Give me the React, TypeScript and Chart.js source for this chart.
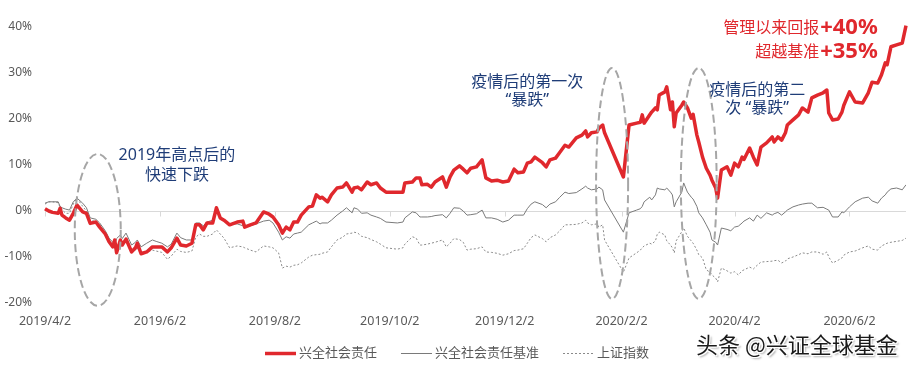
import React, { useEffect, useRef } from "react";
import { Chart, registerables } from "chart.js";

Chart.register(...registerables);

const FONT = "'Noto Sans', 'Noto Sans CJK SC', sans-serif";

// Trading dates (sampled) and cumulative returns in %
const dates = [
  "2019-04-02","2019-04-04","2019-04-06","2019-04-09","2019-04-10","2019-04-11","2019-04-13","2019-04-15","2019-04-17","2019-04-19",
  "2019-04-22","2019-04-24","2019-04-26","2019-04-29","2019-05-01","2019-05-04","2019-05-06","2019-05-08","2019-05-09","2019-05-10",
  "2019-05-12","2019-05-13","2019-05-15","2019-05-18","2019-05-20","2019-05-21","2019-05-23","2019-05-26","2019-05-29","2019-05-31",
  "2019-06-03","2019-06-06","2019-06-08","2019-06-11","2019-06-13","2019-06-16","2019-06-19","2019-06-21","2019-06-23","2019-06-25",
  "2019-06-27","2019-06-30","2019-07-02","2019-07-04","2019-07-06","2019-07-09","2019-07-13","2019-07-16","2019-07-17","2019-07-20",
  "2019-07-23","2019-07-27","2019-07-30","2019-08-01","2019-08-04","2019-08-06","2019-08-08","2019-08-10","2019-08-12","2019-08-14",
  "2019-08-16","2019-08-20","2019-08-22","2019-08-24","2019-08-26","2019-08-27","2019-08-30","2019-09-01","2019-09-04","2019-09-07",
  "2019-09-09","2019-09-12","2019-09-13","2019-09-15","2019-09-17","2019-09-20","2019-09-22","2019-09-25","2019-09-27","2019-09-30",
  "2019-10-06","2019-10-09","2019-10-10","2019-10-14","2019-10-16","2019-10-18","2019-10-19","2019-10-22","2019-10-24","2019-10-26",
  "2019-10-30","2019-11-01","2019-11-03","2019-11-05","2019-11-08","2019-11-10","2019-11-12","2019-11-14","2019-11-17","2019-11-20",
  "2019-11-22","2019-11-25","2019-11-28","2019-12-01","2019-12-04","2019-12-07","2019-12-09","2019-12-12","2019-12-14","2019-12-16",
  "2019-12-18","2019-12-22","2019-12-24","2019-12-26","2019-12-29","2019-12-31","2020-01-03","2020-01-05","2020-01-09","2020-01-12",
  "2020-01-14","2020-01-15","2020-01-17","2020-01-20","2020-01-21","2020-01-23","2020-01-24","2020-02-03","2020-02-06","2020-02-10",
  "2020-02-12","2020-02-13","2020-02-14","2020-02-17","2020-02-18","2020-02-20","2020-02-21","2020-02-22","2020-02-25","2020-02-26",
  "2020-02-28","2020-02-29","2020-03-01","2020-03-02","2020-03-05","2020-03-06","2020-03-08","2020-03-10","2020-03-11","2020-03-13",
  "2020-03-14","2020-03-16","2020-03-18","2020-03-20","2020-03-21","2020-03-23","2020-03-24","2020-03-26","2020-03-29","2020-03-31",
  "2020-04-02","2020-04-04","2020-04-06","2020-04-07","2020-04-10","2020-04-12","2020-04-14","2020-04-16","2020-04-19","2020-04-22",
  "2020-04-23","2020-04-25","2020-04-27","2020-04-29","2020-04-30","2020-05-03","2020-05-06","2020-05-08","2020-05-11","2020-05-13",
  "2020-05-16","2020-05-19","2020-05-21","2020-05-22","2020-05-24","2020-05-27","2020-05-29","2020-05-30","2020-06-02","2020-06-05",
  "2020-06-09","2020-06-12","2020-06-14","2020-06-17","2020-06-19","2020-06-21","2020-06-22","2020-06-24","2020-06-27","2020-06-30",
  "2020-07-02",
];

const fundReturn = [
  0.5, 0.0, -0.3, -0.5, 0.6, -0.9, -1.5, -2.0, -0.5, 1.3,
  -0.2, -0.5, -2.7, -2.4, -3.5, -5.0, -6.7, -7.8, -6.3, -9.1,
  -6.3, -7.4, -6.1, -8.9, -8.0, -7.0, -9.3, -8.9, -7.8, -7.8,
  -7.8, -8.9, -8.0, -5.9, -7.4, -7.6, -7.0, -3.0, -3.0, -4.1,
  -2.6, -2.6, 0.7, -1.5, -2.0, -3.0, -2.4, -2.2, -3.5, -3.0,
  -2.6, -0.2, -0.7, -1.3, -3.0, -4.8, -3.5, -4.1, -2.4, -2.4,
  -0.9, 0.9, 1.1, 3.5, 2.8, 3.0, 2.0, 3.5, 5.0, 5.2,
  6.1, 4.1, 5.0, 5.2, 4.6, 6.3, 5.7, 6.1, 5.0, 4.1,
  4.1, 4.1, 6.1, 6.3, 7.2, 7.2, 5.7, 5.8, 5.2, 6.3,
  7.4, 5.2, 7.4, 8.9, 9.8, 9.1, 8.3, 9.3, 9.6, 11.1,
  7.2, 6.5, 6.7, 6.3, 6.5, 9.1, 8.3, 8.5, 10.4, 10.7,
  11.7, 10.5, 9.6, 11.1, 11.5, 12.6, 14.3, 13.9, 15.9, 16.5,
  17.4, 16.1, 17.0, 17.2, 18.0, 18.7, 17.0, 7.4, 18.7, 19.1,
  19.3, 20.9, 19.1, 20.9, 21.5, 22.4, 22.0, 25.2, 25.9, 27.0,
  22.0, 23.7, 18.3, 21.3, 23.0, 23.7, 22.4, 20.2, 21.0, 16.5,
  15.0, 11.7, 9.3, 7.8, 6.7, 5.0, 2.8, 8.9, 9.6, 7.8,
  10.4, 9.6, 11.7, 11.2, 13.7, 11.7, 10.0, 13.9, 14.8, 16.1,
  15.0, 16.1, 15.4, 17.0, 18.7, 19.8, 20.9, 22.4, 21.5, 24.6,
  25.2, 25.7, 26.3, 21.3, 19.8, 20.0, 21.5, 23.0, 25.9, 23.7,
  23.5, 25.7, 28.0, 27.8, 29.6, 32.2, 31.8, 35.7, 36.1, 36.5,
  40.3,
];

const benchmarkReturn = [
  1.7, 2.0, 2.0, 2.0, 1.0, 0.7, 0.4, 0.2, 2.0, 2.8,
  1.7, 0.7, -1.5, -1.8, -2.6, -4.3, -5.9, -6.8, -7.4, -6.0,
  -5.2, -6.0, -4.8, -7.4, -6.8, -6.3, -7.8, -7.0, -6.3, -6.6,
  -7.0, -7.8, -7.2, -4.8, -5.8, -6.3, -6.3, -2.6, -2.6, -3.2,
  -2.4, -2.0, 0.7, -1.3, -2.0, -2.8, -2.8, -3.2, -3.3, -3.2,
  -2.8, -2.2, -2.0, -2.6, -4.6, -6.3, -5.6, -5.9, -5.0, -4.8,
  -4.6, -3.0, -2.6, -2.2, -2.8, -2.6, -2.6, -2.0, -0.9, 0.0,
  0.7, -0.4, 0.7, 0.4, -0.5, -0.4, -0.9, -1.3, -1.6, -2.4,
  -2.6, -2.4, -1.5, -0.2, -0.4, -1.3, -1.3, -1.3, -1.2, -1.0,
  -0.8, -1.5, -0.5, 0.7, 0.6, 0.0, -0.9, -0.8, -0.6, 0.2,
  -1.5, -1.5, -1.8, -2.4, -2.0, -0.9, -0.9, -0.9, 0.5, 1.5,
  2.0, 1.4, 0.7, 1.5, 2.0, 2.9, 4.1, 3.8, 4.0, 4.8,
  5.4, 5.0, 4.6, 4.8, 5.2, 4.6, 2.4, -4.6, -0.4, 0.2,
  0.5, 1.0, 2.0, 3.0, 2.4, 3.5, 5.0, 4.8, 4.6, 5.0,
  4.1, 3.5, 0.9, 2.0, 4.1, 6.1, 4.1, 3.0, 2.6, 1.0,
  -0.4, -1.5, -3.0, -4.6, -6.3, -6.8, -7.4, -3.7, -4.0, -4.3,
  -3.5, -3.3, -2.6, -2.2, -1.5, -2.2, -0.9, -1.6, -0.4, -0.9,
  -0.6, -0.3, -0.9, -0.2, 0.2, 0.9, 1.3, 1.5, 1.7, 1.7,
  0.7, 0.8, 0.4, 0.2, -1.3, -1.3, -0.2, -0.4, 0.9, 2.0,
  2.8, 3.0, 2.2, 1.7, 2.8, 3.5, 4.1, 4.8, 5.0, 4.6,
  5.7,
];

const indexReturn = [
  1.5, 2.0, 2.0, 1.8, 0.8, 0.3, -0.5, -0.5, 1.5, 2.8,
  1.0, 0.0, -2.0, -2.3, -3.0, -5.0, -7.0, -7.8, -8.0, -8.9,
  -7.0, -7.5, -6.5, -9.0, -8.5, -8.0, -9.5, -9.0, -8.5, -8.7,
  -9.0, -10.5, -9.8, -8.3, -8.8, -9.0, -8.7, -5.7, -5.0, -5.5,
  -5.5, -5.0, -4.1, -5.0, -5.9, -8.0, -7.6, -7.8, -8.0, -8.5,
  -8.9, -7.6, -7.8, -8.0, -9.1, -12.4, -12.0, -12.2, -11.8, -11.7,
  -11.3, -10.0, -9.6, -9.5, -9.4, -9.2, -8.9, -7.8, -6.3, -5.7,
  -5.0, -4.8, -4.6, -4.8, -5.5, -5.8, -6.2, -6.7, -7.2, -8.0,
  -8.3, -8.0, -7.2, -5.6, -5.9, -7.4, -7.4, -7.2, -7.0, -6.8,
  -6.3, -7.8, -7.0, -6.0, -6.2, -6.8, -8.5, -8.3, -8.2, -7.8,
  -8.9, -9.0, -9.2, -9.6, -9.3, -8.6, -8.5, -8.2, -7.0, -5.8,
  -5.2, -6.0, -6.7, -5.8, -5.2, -4.4, -3.0, -3.0, -2.9, -2.6,
  -2.0, -2.6, -3.0, -2.8, -3.5, -3.0, -6.3, -13.3, -10.2, -9.1,
  -8.5, -8.0, -7.6, -7.0, -7.2, -6.5, -5.0, -4.6, -5.2, -6.5,
  -7.4, -8.0, -9.1, -6.5, -4.5, -3.7, -5.5, -6.5, -7.0, -8.5,
  -9.5, -10.2, -12.8, -13.3, -13.9, -14.6, -15.4, -12.4, -13.0, -13.5,
  -13.2, -13.9, -13.0, -12.8, -12.2, -12.6, -11.8, -11.1, -11.0, -10.9,
  -10.8, -10.7, -11.3, -10.9, -10.4, -10.0, -9.5, -9.1, -9.3, -8.9,
  -8.9, -9.4, -8.9, -10.0, -11.3, -10.7, -10.2, -9.6, -8.9, -8.7,
  -8.0, -7.6, -8.3, -8.5, -7.6, -7.2, -7.0, -6.8, -6.6, -6.4,
  -5.9,
];

const seriesNames = ["兴全社会责任", "兴全社会责任基准", "上证指数"];

const startDate = "2019-04-02";
const endDate = "2020-07-02";
const tickDates = ["2019-04-02", "2019-06-02", "2019-08-02", "2019-10-02", "2019-12-02", "2020-02-02", "2020-04-02", "2020-06-02"];
const tickLabels = ["2019/4/2", "2019/6/2", "2019/8/2", "2019/10/2", "2019/12/2", "2020/2/2", "2020/4/2", "2020/6/2"];
const yTicks = [-20, -10, 0, 10, 20, 30, 40];

// Annotations anchored in data coordinates
const ellipseDates = ["2019-04-30", "2020-01-28", "2020-03-14"];
const ellipseValues = [-4.1, 6.0, 6.0];
const ellipseHalfDays = [12.2, 8.5, 9.5];
const ellipseHalfPct = [16.5, 25.1, 25.1];

const noteLines = [
  ["2019年高点后的", "快速下跌"],
  ["疫情后的第一次", "“暴跌”"],
  ["疫情后的第二", "次 “暴跌”"],
];
const noteDates = ["2019-06-11", "2019-12-14", "2020-04-14"];
const noteValues = [
  [12.0, 7.8],
  [28.0, 24.1],
  [26.3, 22.4],
];

const resultLabels = ["管理以来回报", "超越基准"];
const resultNumbers = ["+40%", "+35%"];
const resultDate = "2020-06-17";
const resultValues = [39.8, 34.6];

function dayOf(s: string): number {
  const [y, m, d] = s.split("-").map(Number);
  const [y0, m0, d0] = startDate.split("-").map(Number);
  return Math.round((Date.UTC(y, m - 1, d) - Date.UTC(y0, m0 - 1, d0)) / 86400000);
}

const RED = "#e0282d";
const BLUE = "#1f3d78";
const AXIS_TEXT = "#595959";

const overlayPlugin = {
  id: "overlay",
  beforeDatasetsDraw(chart: any) {
    const { ctx } = chart;
    const x = chart.scales.x;
    const y = chart.scales.y;
    const y0 = Math.round(y.getPixelForValue(0)) + 0.5;
    ctx.save();
    ctx.strokeStyle = "#d9d9d9";
    ctx.lineWidth = 1;
    for (const d of tickDates) {
      const px = Math.round(x.getPixelForValue(dayOf(d))) + 0.5;
      ctx.beginPath();
      ctx.moveTo(px, y0);
      ctx.lineTo(px, y0 + 5);
      ctx.stroke();
    }
    ctx.restore();
  },
  afterDatasetsDraw(chart: any) {
    const { ctx } = chart;
    const x = chart.scales.x;
    const y = chart.scales.y;
    ctx.save();
    // dashed ellipses
    ctx.strokeStyle = "#a6a6a6";
    ctx.lineWidth = 2;
    ctx.setLineDash([8, 4]);
    ellipseDates.forEach((d, i) => {
      const cx = x.getPixelForValue(dayOf(d));
      const cy = y.getPixelForValue(ellipseValues[i]);
      const rx = Math.abs(x.getPixelForValue(dayOf(d) + ellipseHalfDays[i]) - cx);
      const ry = Math.abs(y.getPixelForValue(ellipseValues[i] + ellipseHalfPct[i]) - cy);
      ctx.beginPath();
      ctx.ellipse(cx, cy, rx, ry, 0, 0, Math.PI * 2);
      ctx.stroke();
    });
    ctx.setLineDash([]);
    // blue notes
    ctx.fillStyle = BLUE;
    ctx.font = `16px ${FONT}`;
    ctx.textAlign = "center";
    ctx.textBaseline = "middle";
    noteLines.forEach((lines, i) => {
      const cx = x.getPixelForValue(dayOf(noteDates[i]));
      lines.forEach((t, j) => {
        ctx.fillText(t, cx, y.getPixelForValue(noteValues[i][j]));
      });
    });
    // red result text, right aligned
    const xr = x.getPixelForValue(dayOf(resultDate));
    ctx.fillStyle = RED;
    ctx.textAlign = "right";
    resultLabels.forEach((label, i) => {
      const py = y.getPixelForValue(resultValues[i]);
      ctx.font = `bold 22px ${FONT}`;
      const w = ctx.measureText(resultNumbers[i]).width;
      ctx.fillText(resultNumbers[i], xr, py);
      ctx.font = `16px ${FONT}`;
      ctx.fillText(label, xr - w - 1, py + 1);
    });
    ctx.restore();
  },
  afterDraw(chart: any) {
    // legend below the axis labels
    const { ctx } = chart;
    const items = chart.data.datasets.map((ds: any) => ({
      text: ds.label as string,
      color: ds.borderColor as string,
      width: Math.min(ds.borderWidth as number, 4),
      dash: (ds.borderDash as number[]) || [],
    }));
    const lineLen = 31;
    const textGap = 3;
    const itemGap = 24;
    ctx.save();
    ctx.font = `13px ${FONT}`;
    const widths = items.map((it: any) => lineLen + textGap + ctx.measureText(it.text).width);
    const total = widths.reduce((a: number, b: number) => a + b, 0) + itemGap * (items.length - 1);
    const cy = chart.height - 17;
    let cx = chart.width / 2 - 4 - total / 2;
    ctx.textAlign = "left";
    ctx.textBaseline = "middle";
    items.forEach((it: any, i: number) => {
      ctx.strokeStyle = it.color;
      ctx.lineWidth = it.width;
      ctx.setLineDash(it.dash);
      ctx.beginPath();
      ctx.moveTo(cx, Math.round(cy) + (it.width % 2 ? 0.5 : 0));
      ctx.lineTo(cx + lineLen, Math.round(cy) + (it.width % 2 ? 0.5 : 0));
      ctx.stroke();
      ctx.setLineDash([]);
      ctx.fillStyle = AXIS_TEXT;
      ctx.fillText(it.text, cx + lineLen + textGap, cy);
      cx += widths[i] + itemGap;
    });
    ctx.restore();
  },
};

export default function App() {
  const ref = useRef<HTMLCanvasElement>(null);

  useEffect(() => {
    if (!ref.current) return;
    Chart.defaults.font.family = FONT;
    const toPoints = (vals: number[]) => dates.map((d, i) => ({ x: dayOf(d), y: vals[i] }));
    const chart = new Chart(ref.current, {
      type: "line",
      data: {
        datasets: [
          {
            label: seriesNames[0],
            data: toPoints(fundReturn),
            borderColor: RED,
            backgroundColor: RED,
            borderWidth: 3.5,
            pointRadius: 0,
            tension: 0,
            order: 0,
            clip: false as any,
            borderJoinStyle: "round",
          },
          {
            label: seriesNames[1],
            data: toPoints(benchmarkReturn),
            borderColor: "#7a7a7a",
            backgroundColor: "#7a7a7a",
            borderWidth: 1,
            pointRadius: 0,
            tension: 0,
            order: 1,
          },
          {
            label: seriesNames[2],
            data: toPoints(indexReturn),
            borderColor: "#8a8a8a",
            backgroundColor: "#8a8a8a",
            borderWidth: 1,
            borderDash: [2, 2],
            pointRadius: 0,
            tension: 0,
            order: 2,
          },
        ],
      },
      options: {
        responsive: false,
        animation: false,
        events: [],
        layout: { padding: { top: 27, right: 16, bottom: 0, left: 0 } },
        plugins: {
          tooltip: { enabled: false },
          legend: { display: false },
        },
        scales: {
          x: {
            type: "linear",
            min: dayOf(startDate),
            max: dayOf(endDate),
            afterBuildTicks: (s: any) => {
              s.ticks = tickDates.map((d) => ({ value: dayOf(d) }));
            },
            afterFit: (s: any) => {
              s.height = 67;
            },
            ticks: {
              autoSkip: false,
              maxRotation: 0,
              color: AXIS_TEXT,
              font: { size: 12.5, family: FONT },
              padding: 11,
              callback: (_v: any, i: number) => tickLabels[i],
            },
            grid: { display: false, drawTicks: false },
            border: { display: false },
          },
          y: {
            min: yTicks[0],
            max: yTicks[yTicks.length - 1],
            afterBuildTicks: (s: any) => {
              s.ticks = yTicks.map((v) => ({ value: v }));
            },
            afterFit: (s: any) => {
              s.width = 45;
            },
            ticks: {
              color: AXIS_TEXT,
              font: { size: 12, family: FONT },
              padding: 13,
              callback: (v: any) => `${v}%`,
            },
            grid: {
              drawTicks: false,
              color: (c: any) => (c.tick && c.tick.value === 0 ? "#d9d9d9" : "rgba(0,0,0,0)"),
              lineWidth: 1,
            },
            border: { display: false },
          },
        },
      },
      plugins: [overlayPlugin],
    });
    return () => chart.destroy();
  }, []);

  return (
    <div style={{ position: "absolute", left: 0, top: 0, width: 922, height: 370, background: "#fff", overflow: "hidden" }}>
      <canvas ref={ref} width={922} height={370} style={{ display: "block" }} />
      <div
        style={{
          position: "absolute",
          left: 696,
          top: 328,
          fontFamily: "'Noto Sans CJK SC', sans-serif",
          fontSize: 22,
          lineHeight: "30px",
          color: "#1a1a1a",
          whiteSpace: "nowrap",
          textShadow: "1px 1px 0 #fff, -1px -1px 0 #fff, 1px -1px 0 #fff, -1px 1px 0 #fff, 2px 2px 2px rgba(0,0,0,0.35)",
        }}
      >
        头条 @兴证全球基金
      </div>
    </div>
  );
}
